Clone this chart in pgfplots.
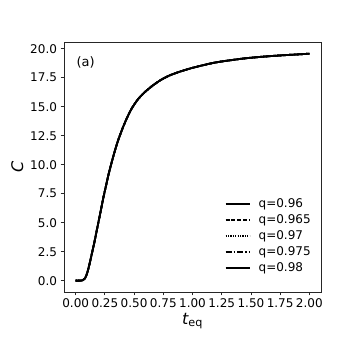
\documentclass[border=0pt]{standalone}
\usepackage{fontspec}
\setmainfont{DejaVu Sans}
\usepackage{pgfplots}
\pgfplotsset{compat=1.18}
\usetikzlibrary{calc}

% one read of C(t_eq); the five q values overlap to within the line width
\pgfplotstableread{
t     C
0.00  0.00
0.04  0.00
0.06  0.03
0.08  0.20
0.10  0.70
0.12  1.50
0.14  2.40
0.16  3.30
0.18  4.30
0.20  5.30
0.22  6.30
0.24  7.30
0.26  8.20
0.28  9.10
0.30  9.90
0.33  11.00
0.36  12.00
0.40  13.10
0.44  14.05
0.48  14.85
0.53  15.60
0.58  16.15
0.65  16.75
0.72  17.25
0.80  17.68
0.90  18.05
1.00  18.35
1.10  18.60
1.20  18.82
1.32  19.00
1.45  19.17
1.60  19.31
1.75  19.42
1.90  19.51
2.00  19.57
}\curve

\begin{document}
\begin{tikzpicture}
\begin{axis}[
  name=ax,
  scale only axis,
  width=257pt, height=250pt,
  xmin=-0.1, xmax=2.1,
  ymin=-0.98, ymax=20.58,
  xtick={0,0.25,...,2.01},
  ytick={0,2.5,...,20.01},
  xticklabel style={/pgf/number format/.cd,fixed,fixed zerofill,precision=2},
  yticklabel style={/pgf/number format/.cd,fixed,fixed zerofill,precision=1},
  /pgf/number format/assume math mode=true,
  ticklabel style={font=\fontsize{12}{14}\selectfont},
  tick align=outside,
  tick pos=left,
  major tick length=3.5pt,
  tick style={black!85, line width=0.8pt},
  axis line style={black!85, line width=0.8pt},
  xlabel={{\itshape t}\textsubscript{eq}},
  ylabel={\itshape C},
  label style={font=\fontsize{16}{18}\selectfont},
  xlabel style={yshift=2pt},
  legend cell align=left,
  legend style={draw=none, fill=none,
    at={(rel axis cs:0.98,0.06)}, anchor=south east,
    font=\fontsize{12}{14}\selectfont, row sep=1.6pt,
    /tikz/every odd column/.append style={column sep=6pt}},
  legend image code/.code={\draw[#1, line width=2pt] (0pt,0pt) -- (24pt,0pt);},
]
\addplot[black, line width=1.8pt, solid, smooth] table[x=t,y=C] {\curve};
\addlegendentry{q=0.96}
\addplot[black, line width=1.8pt, dash pattern=on 4pt off 1.8pt, smooth] table[x=t,y=C] {\curve};
\addlegendentry{q=0.965}
\addplot[black, line width=1.8pt, dash pattern=on 1.2pt off 1.2pt, smooth] table[x=t,y=C] {\curve};
\addlegendentry{q=0.97}
\addplot[black, line width=1.8pt, dash pattern=on 6pt off 2pt on 1.5pt off 2pt, smooth] table[x=t,y=C] {\curve};
\addlegendentry{q=0.975}
\addplot[black, line width=1.8pt, solid, smooth] table[x=t,y=C] {\curve};
\addlegendentry{q=0.98}
\node[anchor=north west, font=\fontsize{13}{15}\selectfont] at (rel axis cs:0.035,0.955) {(a)};
\end{axis}
\path ($(ax.south west)+(-64pt,-65pt)$) rectangle ($(ax.north east)+(36pt,42pt)$);
\end{tikzpicture}
\end{document}
